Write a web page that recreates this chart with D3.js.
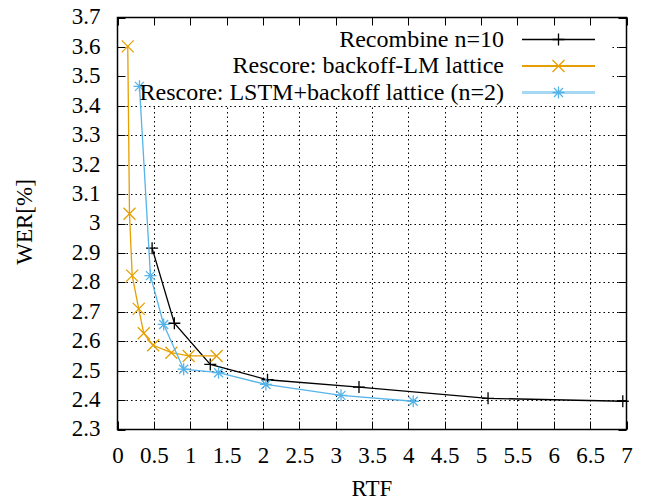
<!DOCTYPE html>
<html><head><meta charset="utf-8">
<script src="https://cdn.jsdelivr.net/npm/d3@7"></script>
<style>body{margin:0;background:#fff}svg{display:block}svg text{font-family:"Liberation Serif","DejaVu Serif","Times New Roman",Times,serif !important;fill:#000}</style>
</head><body><svg id="c" width="648" height="502"></svg>
<script>
const recombineX = [0.476, 0.782, 1.276, 2.063, 3.321, 5.096, 6.949];
const recombineY = [2.916, 2.661, 2.521, 2.469, 2.444, 2.406, 2.396];
const backoffX = [0.141, 0.165, 0.202, 0.292, 0.361, 0.490, 0.741, 0.979, 1.363];
const backoffY = [3.602, 3.033, 2.823, 2.710, 2.627, 2.586, 2.561, 2.550, 2.550];
const lstmX = [0.302, 0.453, 0.635, 0.910, 1.390, 2.041, 3.074, 4.067];
const lstmY = [3.466, 2.823, 2.657, 2.505, 2.493, 2.453, 2.416, 2.396];
const seriesNames = ["Recombine n=10", "Rescore: backoff-LM lattice", "Rescore: LSTM+backoff lattice (n=2)"];
const xTicks = [0,0.5,1,1.5,2,2.5,3,3.5,4,4.5,5,5.5,6,6.5,7];
const yTicks = [2.3,2.4,2.5,2.6,2.7,2.8,2.9,3,3.1,3.2,3.3,3.4,3.5,3.6,3.7];

const L=117.5, R=626.5, T=17.5, B=429.5;
const svg=d3.select("#c");
const x=d3.scaleLinear().domain([0,7]).range([L,R]);
const y=d3.scaleLinear().domain([2.3,3.7]).range([B,T]);
const FS=23, LFS=24;
const FF='"Liberation Serif","DejaVu Serif",serif';

// grid
const grid=svg.append("g").attr("stroke","#000").attr("stroke-width",1).attr("stroke-dasharray","1.5,3");
xTicks.slice(1,-1).forEach(t=>grid.append("line").attr("x1",Math.round(x(t))+0.5).attr("x2",Math.round(x(t))+0.5).attr("y1",T).attr("y2",B));
yTicks.slice(1,-1).forEach(t=>grid.append("line").attr("y1",Math.round(y(t))+0.5).attr("y2",Math.round(y(t))+0.5).attr("x1",L).attr("x2",R));

// legend background (opaque key)
svg.append("rect").attr("x",L+1).attr("y",T+1).attr("width",610-L-1).attr("height",106-T-1).attr("fill","#fff");

// ticks (mirrored, inward)
const tk=svg.append("g").attr("stroke","#000").attr("stroke-width",1);
const TL=8;
xTicks.forEach(t=>{const px=Math.round(x(t))+0.5;
  tk.append("line").attr("x1",px).attr("x2",px).attr("y1",B).attr("y2",B-TL);
  tk.append("line").attr("x1",px).attr("x2",px).attr("y1",T).attr("y2",T+TL);});
yTicks.forEach(t=>{const py=Math.round(y(t))+0.5;
  tk.append("line").attr("y1",py).attr("y2",py).attr("x1",L).attr("x2",L+TL);
  tk.append("line").attr("y1",py).attr("y2",py).attr("x1",R).attr("x2",R-TL);});

// axes via d3 for labels
const xAxis=svg.append("g").attr("transform",`translate(0,${B})`)
  .call(d3.axisBottom(x).tickValues(xTicks).tickFormat(d=>String(d)).tickSize(0).tickPadding(17));
xAxis.attr("font-family",FF).attr("font-size",FS);
xAxis.select(".domain").remove();
xAxis.selectAll("text").attr("fill","#000");
const yAxis=svg.append("g").attr("transform",`translate(${L},0)`)
  .call(d3.axisLeft(y).tickValues(yTicks).tickFormat(d=>String(d)).tickSize(0).tickPadding(17));
yAxis.attr("font-family",FF).attr("font-size",FS);
yAxis.select(".domain").remove();
yAxis.selectAll("text").attr("fill","#000").attr("dy","0.28em");

// border
svg.append("rect").attr("x",L).attr("y",T).attr("width",R-L).attr("height",B-T).attr("fill","none").attr("stroke","#000").attr("stroke-width",1.5);

// markers
function marker(g,type,cx,cy,color){
  const s=6;
  const p=d3.path();
  if(type==="plus"||type==="star"){p.moveTo(cx-s,cy);p.lineTo(cx+s,cy);p.moveTo(cx,cy-s);p.lineTo(cx,cy+s);}
  if(type==="cross"||type==="star"){const k=type==="star"?4.5:6;p.moveTo(cx-k,cy-k);p.lineTo(cx+k,cy+k);p.moveTo(cx-k,cy+k);p.lineTo(cx+k,cy-k);}
  g.append("path").attr("d",p.toString()).attr("stroke",color).attr("stroke-width",1.3).attr("fill","none");
}

const series=[
  {xs:recombineX,ys:recombineY,color:"#000000",type:"plus",lw:1.3,legW:1.3,legC:"#000"},
  {xs:backoffX,ys:backoffY,color:"#E69F00",type:"cross",lw:1.3,legW:2,legC:"#E69F00"},
  {xs:lstmX,ys:lstmY,color:"#56B4E9",type:"star",lw:1.3,legW:3,legC:"#a6d8f4"}
];
const line=d3.line().x(d=>x(d[0])).y(d=>y(d[1]));
const legRows=[39.5,66,92.5];
series.forEach((s,i)=>{
  const pts=s.xs.map((v,j)=>[v,s.ys[j]]);
  const g=svg.append("g");
  g.append("path").datum(pts).attr("d",line).attr("fill","none").attr("stroke",s.color).attr("stroke-width",s.lw);
  pts.forEach(p=>marker(g,s.type,x(p[0]),y(p[1]),s.color));
});
// legend
series.forEach((s,i)=>{
  const ly=legRows[i];
  const g=svg.append("g");
  g.append("line").attr("x1",522).attr("x2",595).attr("y1",ly).attr("y2",ly).attr("stroke",s.legC).attr("stroke-width",s.legW);
  marker(g,s.type,558.5,ly,s.color);
  g.append("text").attr("x",504).attr("y",ly).attr("dy","0.3em").attr("text-anchor","end").attr("font-family",FF).attr("font-size",LFS).text(seriesNames[i]);
});

// axis titles
svg.append("text").attr("x",372).attr("y",496).attr("text-anchor","middle").attr("font-family",FF).attr("font-size",FS).text("RTF");
svg.append("text").attr("transform","translate(32,222) rotate(-90)").attr("text-anchor","middle").attr("font-family",FF).attr("font-size",FS).text("WER[%]");
</script></body></html>
